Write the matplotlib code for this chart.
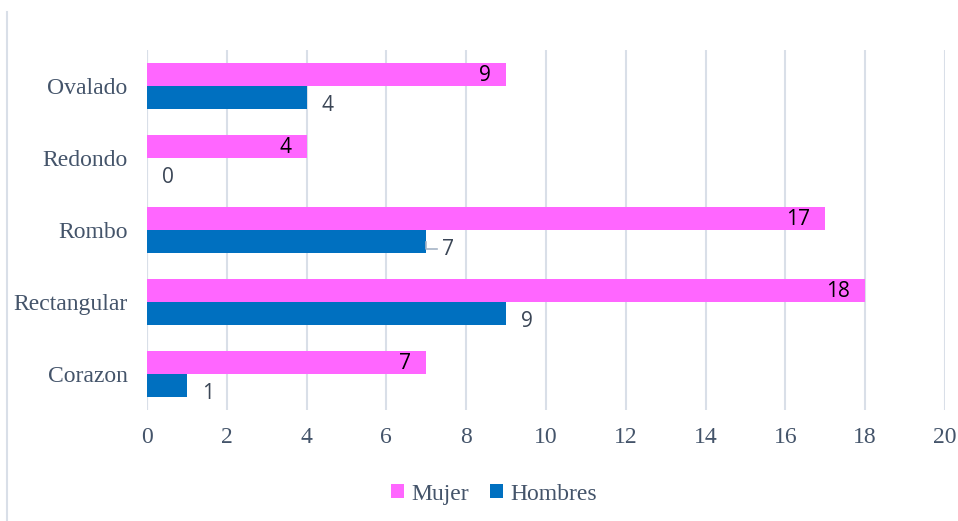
import matplotlib.pyplot as plt
import numpy as np

# forma de cara por sexo
categorias = ['Corazon', 'Rectangular', 'Rombo', 'Redondo', 'Ovalado']
mujer = [7, 18, 17, 4, 9]
hombres = [1, 9, 7, 0, 4]

rosa = '#FF66FF'
azul = '#0070C0'
gris_texto = '#44546A'
gris_grid = '#D9DFE8'

fig = plt.figure(figsize=(9.58, 5.21), dpi=100)
ax = fig.add_axes([0.1534, 0.2131, 0.833, 0.691])

y = np.arange(len(categorias))
alto = 0.325

b_muj = ax.barh(y + alto / 2, mujer, height=alto, color=rosa, label='Mujer', zorder=3)
b_hom = ax.barh(y - alto / 2, hombres, height=alto, color=azul, label='Hombres', zorder=3)

# etiquetas de valores
for barra, v in zip(b_muj, mujer):
    ax.annotate(str(v), (v, barra.get_y() + barra.get_height() / 2 - 0.02),
                xytext=(-11, 0), textcoords='offset points', ha='right', va='center',
                fontsize=15, color='black', family='Open Sans', zorder=4)
for barra, v in zip(b_hom, hombres):
    cy = barra.get_y() + barra.get_height() / 2
    if v == 7:
        # pequeña línea guía
        ax.plot([v, v, v + 0.28], [cy, cy - 0.1, cy - 0.1],
                color='#A6B4C6', lw=1.2, zorder=4)
    ax.annotate(str(v), (v, cy - 0.11),
                xytext=(11, 0), textcoords='offset points', ha='left', va='center',
                fontsize=15, color='#3B4656', family='Open Sans', zorder=4)

ax.set_xlim(0, 20)
ax.set_ylim(-0.5, 4.5)
ax.set_xticks(range(0, 21, 2))
ax.set_yticks(y)
ax.set_yticklabels(categorias)
ax.tick_params(axis='both', length=0, labelsize=17, labelcolor=gris_texto)
ax.tick_params(axis='x', pad=12)
ax.tick_params(axis='y', pad=14)
for lab in ax.get_xticklabels() + ax.get_yticklabels():
    lab.set_family('Liberation Serif')

ax.grid(axis='x', color=gris_grid, lw=1.5, zorder=0)
ax.axvline(0, color=gris_grid, lw=1.5, zorder=1)
for s in ax.spines.values():
    s.set_visible(False)

leg = ax.legend(handles=[b_muj, b_hom], loc='center', bbox_to_anchor=(0.435, -0.234),
                ncol=2, frameon=False, handlelength=0.55, handleheight=0.55,
                handletextpad=0.3, columnspacing=0.9,
                prop={'family': 'Liberation Serif', 'size': 17})
for t in leg.get_texts():
    t.set_color(gris_texto)

# borde izquierdo del gráfico
fig.add_artist(plt.Line2D([0.0075, 0.0075], [0.0, 0.977], color=gris_grid, lw=1.5))

fig.savefig('out.png', dpi=100, facecolor='white')
